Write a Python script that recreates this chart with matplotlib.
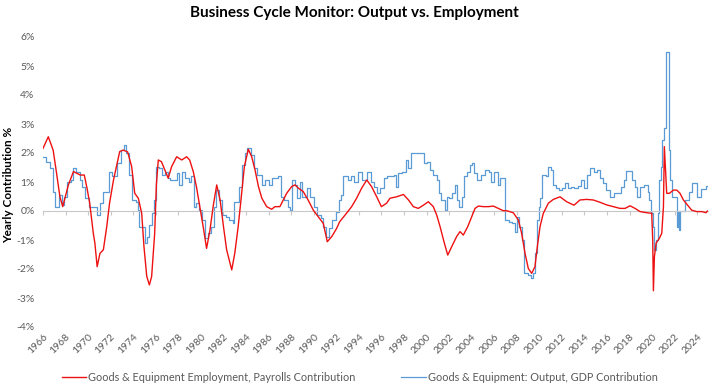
import matplotlib.pyplot as plt
import numpy as np

# red: employment contribution (decimal year, %)
red_t = [1966.0, 1966.47, 1966.9, 1967.2, 1967.5, 1967.75, 1967.95, 1968.25, 1968.7, 1969.3,
         1969.66, 1969.9, 1970.14, 1970.46, 1970.6, 1970.8, 1971.05, 1971.35, 1971.65, 1971.9,
         1972.25, 1972.8, 1973.1, 1973.5, 1973.86, 1974.13, 1974.45, 1974.75, 1974.95, 1975.2,
         1975.43, 1975.63, 1975.9, 1976.05, 1976.22, 1976.5, 1976.8, 1977.1, 1977.4, 1977.85,
         1978.3, 1978.73, 1979.0, 1979.32, 1979.6, 1979.9, 1980.2, 1980.5, 1980.8, 1981.1,
         1981.4, 1981.7, 1982.0, 1982.28, 1982.73, 1983.0, 1983.3, 1983.55, 1983.85, 1984.2,
         1984.5, 1984.8, 1985.1, 1985.4, 1985.83, 1986.27, 1986.56, 1987.0, 1987.3, 1987.6,
         1988.04, 1988.34, 1988.63, 1989.07, 1989.5, 1989.96, 1990.4, 1990.85, 1991.2, 1991.6,
         1992.03, 1992.3, 1992.9, 1993.36, 1993.8, 1994.25, 1994.7, 1995.13, 1995.58, 1996.0,
         1996.46, 1996.76, 1997.35, 1997.95, 1998.4, 1998.83, 1999.27, 1999.72, 2000.16, 2000.6,
         2000.9, 2001.2, 2001.58, 2001.88, 2002.23, 2002.67, 2002.97, 2003.26, 2003.65, 2004.0,
         2004.3, 2004.6, 2005.04, 2005.48, 2005.92, 2006.37, 2006.8, 2007.1, 2007.69, 2008.14,
         2008.43, 2008.73, 2009.02, 2009.32, 2009.61, 2009.82, 2010.06, 2010.35, 2010.8, 2011.24,
         2011.83, 2012.42, 2013.07, 2013.6, 2014.19, 2014.78, 2015.38, 2015.97, 2016.56, 2017.15,
         2017.6, 2018.04, 2018.48, 2018.93, 2019.52, 2019.96, 2020.05, 2020.11, 2020.2, 2020.35,
         2020.64, 2020.85, 2021.0, 2021.08, 2021.2, 2021.29, 2021.53, 2021.88, 2022.18, 2022.47,
         2022.77, 2023.12, 2023.5, 2023.95, 2024.39, 2024.78, 2024.9]
red_v = [2.16, 2.56, 2.10, 1.31, 0.49, 0.15, 0.45, 0.90, 1.36, 1.24,
         1.24, 0.79, 0.27, -0.77, -1.11, -1.92, -1.46, -1.34, -0.54, 0.27,
         1.07, 2.05, 2.10, 2.04, 1.53, 0.61, 0.44, -0.08, -1.23, -2.26,
         -2.55, -2.26, -0.77, 0.90, 1.76, 1.70, 1.41, 1.13, 1.53, 1.87,
         1.76, 1.87, 1.76, 1.36, 0.84, 0.15, -0.54, -1.29, -0.66, 0.20,
         0.90, 0.38, -0.54, -1.34, -2.03, -1.46, -0.54, 0.38, 1.53, 2.13,
         1.87, 1.41, 0.84, 0.44, 0.15, 0.06, 0.15, 0.15, 0.38, 0.61,
         0.84, 0.90, 0.79, 0.67, 0.38, 0.03, -0.20, -0.43, -1.06, -0.88,
         -0.60, -0.37, -0.08, 0.15, 0.44, 0.79, 1.07, 0.84, 0.49, 0.15,
         0.27, 0.44, 0.49, 0.57, 0.38, 0.15, 0.09, 0.20, 0.32, 0.15,
         -0.14, -0.54, -1.11, -1.52, -1.23, -0.88, -0.71, -0.83, -0.54, -0.20,
         0.09, 0.17, 0.15, 0.15, 0.17, 0.09, 0.01, 0.01, -0.06, -0.31,
         -0.77, -1.46, -1.98, -2.15, -1.92, -1.23, -0.54, -0.08, 0.27, 0.40,
         0.49, 0.32, 0.20, 0.38, 0.40, 0.38, 0.30, 0.21, 0.15, 0.09,
         0.09, 0.18, 0.09, -0.02, -0.06, -0.08, -1.00, -2.75, -1.57, -1.11,
         -0.94, -0.77, 0.15, 2.22, 1.30, 0.61, 0.61, 0.72, 0.72, 0.61,
         0.38, 0.21, 0.03, -0.02, -0.02, -0.06, 0.00]

# blue: output contribution, quarterly steps (decimal year, %)
blue_t = [1966.0, 1966.3, 1966.6, 1966.85, 1967.1, 1967.4, 1967.7, 1967.9, 1968.15, 1968.45,
          1968.65, 1968.95, 1969.25, 1969.5, 1969.7, 1970.1, 1970.8, 1971.05, 1971.3, 1971.85,
          1972.15, 1972.6, 1972.9, 1973.15, 1973.4, 1973.65, 1973.9, 1974.25, 1974.4, 1974.55,
          1975.0, 1975.25, 1975.4, 1975.65, 1975.85, 1976.0, 1976.3, 1976.55, 1976.85, 1977.05,
          1977.3, 1977.85, 1978.05, 1978.3, 1978.6, 1978.9, 1979.15, 1979.4, 1979.6, 1979.85,
          1980.1, 1980.4, 1980.65, 1980.9, 1981.15, 1981.35, 1981.6, 1981.9, 1982.2, 1982.5,
          1982.85, 1982.95, 1983.4, 1983.65, 1983.9, 1984.1, 1984.4, 1984.7, 1985.0, 1985.45,
          1985.7, 1986.0, 1986.3, 1986.8, 1987.1, 1987.4, 1987.7, 1987.9, 1988.1, 1988.3,
          1988.55, 1988.8, 1989.0, 1989.4, 1989.7, 1990.0, 1990.3, 1990.6, 1990.85, 1991.1,
          1991.35, 1991.6, 1991.95, 1992.2, 1992.4, 1992.6, 1993.0, 1993.3, 1993.6, 1993.95,
          1994.3, 1994.75, 1995.05, 1995.3, 1995.6, 1995.9, 1996.2, 1996.5, 1997.1, 1997.3,
          1997.5, 1997.8, 1998.15, 1998.4, 1998.6, 1999.15, 1999.5, 1999.8, 2000.05, 2000.3,
          2000.6, 2000.9, 2001.1, 2001.3, 2001.6, 2001.8, 2002.0, 2002.3, 2002.5, 2002.7,
          2002.9, 2003.1, 2003.3, 2003.55, 2003.85, 2004.05, 2004.25, 2004.45, 2004.8, 2005.2,
          2005.55, 2005.75, 2006.0, 2006.3, 2006.55, 2006.95, 2007.3, 2007.6, 2007.8, 2008.0,
          2008.2, 2008.45, 2008.65, 2008.95, 2009.25, 2009.45, 2009.65, 2009.78, 2009.95, 2010.05,
          2010.25, 2010.55, 2010.8, 2011.0, 2011.2, 2011.45, 2011.75, 2012.05, 2012.3, 2012.5,
          2012.8, 2013.1, 2013.4, 2013.7, 2013.95, 2014.2, 2014.5, 2014.8, 2015.1, 2015.35,
          2015.6, 2015.9, 2016.3, 2016.6, 2017.2, 2017.5, 2017.7, 2018.2, 2018.45, 2018.7,
          2018.95, 2019.3, 2019.6, 2019.75, 2019.9, 2020.1, 2020.2, 2020.35, 2020.5, 2020.6,
          2020.75, 2020.9, 2021.05, 2021.2, 2021.5, 2021.6, 2021.8, 2022.2, 2022.3, 2022.35,
          2022.5, 2022.95, 2023.25, 2023.55, 2023.95, 2024.35, 2024.75, 2024.9]
blue_v = [1.87, 1.70, 1.47, 0.67, 0.15, 0.55, 0.20, 0.49, 1.01, 1.07,
          1.47, 1.36, 1.07, 0.84, 0.44, 0.15, -0.14, 0.27, 0.67, 1.36,
          1.19, 1.64, 2.10, 2.28, 1.99, 1.24, 0.38, 0.32, 0.03, -0.54,
          -1.11, -0.88, -0.48, -0.08, 0.38, 1.53, 1.47, 1.24, 1.36, 1.13,
          1.07, 1.30, 0.90, 1.36, 1.13, 1.01, 1.19, 0.15, 0.27, 0.03,
          -0.31, -0.94, -0.77, -0.54, 0.15, 0.72, 0.38, -0.14, -0.20, -0.31,
          -0.40, 0.32, 0.84, 1.59, 1.99, 2.16, 1.93, 1.47, 1.24, 0.90,
          1.07, 0.90, 1.13, 1.19, 0.49, 0.38, 0.15, 0.03, 1.07, 0.90,
          0.44, 1.01, 0.49, 0.79, 0.49, 0.15, -0.14, -0.25, -0.54, -0.88,
          -0.60, -0.31, -0.02, 0.38, 0.55, 1.19, 1.07, 1.19, 1.01, 1.36,
          1.07, 1.36, 1.01, 0.84, 0.61, 0.79, 1.13, 1.19, 1.24, 0.84,
          1.30, 1.36, 1.76, 1.47, 1.99, 2.01, 1.99, 1.64, 1.70, 1.41,
          1.24, 1.07, 0.61, 0.38, 0.03, 0.49, 0.44, 0.61, 0.90, 0.38,
          0.15, 0.49, 1.19, 1.36, 1.59, 1.64, 1.30, 1.07, 1.24, 1.41,
          1.36, 1.01, 1.36, 0.90, 1.13, -0.31, -0.37, -0.43, -0.71, -0.20,
          -0.54, -1.00, -2.15, -2.20, -2.32, -2.15, -1.46, -0.31, 0.15, 0.44,
          1.24, 1.19, 1.53, 1.41, 0.90, 0.79, 0.72, 0.79, 0.96, 0.79,
          0.82, 0.79, 0.87, 1.07, 0.79, 1.24, 1.47, 1.36, 1.41, 1.13,
          0.95, 0.72, 0.49, 0.61, 0.84, 1.07, 1.39, 1.07, 0.84, 0.49,
          0.84, 0.90, 0.67, 0.38, -0.08, -0.54, -1.34, -1.00, -0.08, 1.07,
          1.53, 2.45, 2.85, 5.49, 2.10, 1.07, 0.49, -0.54, 0.00, -0.66,
          0.00, 0.38, 0.67, 0.95, 0.49, 0.76, 0.87, 0.87]

year_ticks = list(range(1966, 2025, 2))
y_ticks = [-4, -3, -2, -1, 0, 1, 2, 3, 4, 5, 6]

plt.rcParams['font.family'] = ['Lato', 'DejaVu Sans']
gray = '#595959'

fig = plt.figure(figsize=(7.14, 3.89), dpi=100)
ax = fig.add_axes([43 / 714, 1 - 327 / 389, 665 / 714, 290 / 389])

ax.plot(blue_t, blue_v, drawstyle='steps-post', color='#5b9bd5', lw=0.9,
        label='Goods & Equipment: Output, GDP Contribution', zorder=2)
ax.plot(red_t, red_v, color='#ee1111', lw=1.0,
        label='Goods & Equipment Employment, Payrolls Contribution', zorder=3)

ax.set_xlim(1966, 2024.95)
ax.set_ylim(-4, 6)
ax.set_yticks(y_ticks)
ax.set_yticklabels([f'{v}%' for v in y_ticks])
ax.tick_params(axis='y', length=0, labelsize=7.5, labelcolor=gray, pad=6)

for s in ['top', 'right', 'left']:
    ax.spines[s].set_visible(False)
ax.spines['bottom'].set_position(('data', 0))
ax.spines['bottom'].set_color('#c8c8c8')
ax.set_xticks(year_ticks)
ax.tick_params(axis='x', direction='out', length=3, color='#c8c8c8', labelbottom=False)

sec = ax.secondary_xaxis('bottom')
sec.set_xticks(year_ticks)
sec.set_xticklabels([str(y) for y in year_ticks], rotation=45, ha='right', rotation_mode='anchor')
sec.tick_params(length=0, labelsize=7.5, labelcolor=gray, pad=4)
sec.spines['bottom'].set_visible(False)

ax.set_ylabel('Yearly Contribution %', fontsize=8.5, fontweight='bold')
ax.yaxis.set_label_coords(-0.044, 0.49)
fig.suptitle('Business Cycle Monitor: Output vs. Employment', x=0.497, y=0.985,
             fontsize=11, fontweight='bold')

h, l = ax.get_legend_handles_labels()
fig.legend(h[::-1], l[::-1], loc='center', bbox_to_anchor=(0.5035, 0.03), ncol=2,
           frameon=False, fontsize=7.8, labelcolor=gray, handlelength=2.3,
           handletextpad=0.15, columnspacing=4.2)

fig.savefig('out.png', dpi=100)
